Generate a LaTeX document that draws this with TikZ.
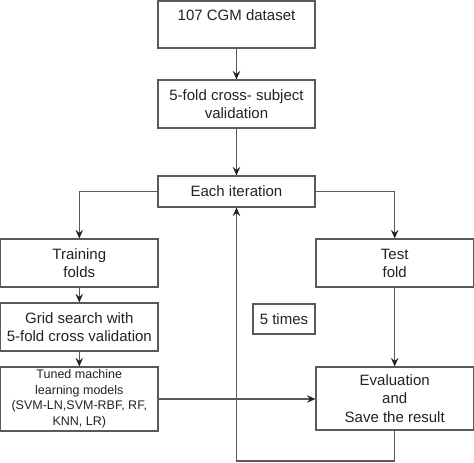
\documentclass[tikz,border=0pt]{standalone}
\usepackage{fontspec}
\setmainfont{Liberation Sans}
\usetikzlibrary{arrows.meta}
\definecolor{ln}{HTML}{5A5A5A}
\definecolor{tx}{HTML}{222222}
\begin{document}
\begin{tikzpicture}[x=1pt,y=-1pt,
  box/.style={draw=ln,line width=1.2pt,inner sep=0pt,align=center,text=tx,
    font=\fontsize{15}{18}\selectfont},
  small/.style={font=\fontsize{12.5}{15.5}\selectfont},
  conn/.style={draw=ln,line width=1.2pt},
  arr/.style={conn,-{Stealth[length=8.5pt,width=7.5pt,inset=3pt,color=tx]}}]
\useasboundingbox (0,0) rectangle (474,463);
\node[box,minimum width=157pt,minimum height=47pt] (b1) at (236.5,24.5) {107 CGM dataset\\~};
\node[box,minimum width=157pt,minimum height=48pt] (b2) at (236.5,104) {5-fold cross- subject\\validation};
\node[box,minimum width=157pt,minimum height=31pt] (b3) at (236.5,191.5) {Each iteration};
\node[box,minimum width=157.4pt,minimum height=48pt] (train) at (79.3,263) {Training\\folds};
\node[box,minimum width=157.4pt,minimum height=48pt] (test) at (394.7,263) {Test\\fold};
\node[box,minimum width=157.4pt,minimum height=48pt] (grid) at (79.3,327) {Grid search with\\5-fold cross validation};
\node[box,small,minimum width=157.4pt,minimum height=64pt] (tuned) at (79.3,399) {Tuned machine\\learning models\\(SVM-LN,SVM-RBF, RF,\\KNN, LR)};
\node[box,minimum width=157.4pt,minimum height=63pt,font=\fontsize{15}{18.5}\selectfont] (eval) at (394.7,398.5) {Evaluation\\and\\Save the result};
\node[box,minimum width=62pt,minimum height=30pt] (five) at (284,319) {5 times};
\draw[arr] (b1.south) -- (b2.north);
\draw[arr] (b2.south) -- (b3.north);
\draw[arr] (b3.west) -| (train.north);
\draw[arr] (b3.east) -| (test.north);
\draw[arr] (train.south) -- (grid.north);
\draw[arr] (grid.south) -- (tuned.north);
\draw[arr] (tuned.east) -- (tuned.east -| eval.west);
\draw[arr] (test.south) -- (eval.north);
\coordinate (loopc) at (394.7,461);
\draw[arr] (eval.south) -- (loopc) -| (b3.south);
\end{tikzpicture}
\end{document}
